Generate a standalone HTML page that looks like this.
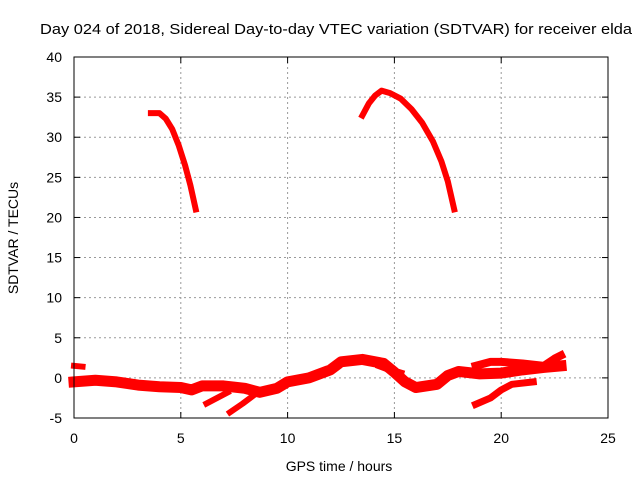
<!DOCTYPE html>
<html><head><meta charset="utf-8"><style>
body{margin:0;background:#fff}
svg{display:block;font-family:"Liberation Sans",sans-serif}
</style></head><body>
<svg id="chart" width="640" height="480">
<text x="40" y="34" font-size="15" textLength="592" lengthAdjust="spacingAndGlyphs">Day 024 of 2018, Sidereal Day-to-day VTEC variation (SDTVAR) for receiver elda</text>
<g id="grid"></g><g id="ticks"></g><g id="series"></g>
<rect x="74" y="57" width="534" height="361" fill="none" stroke="#000" stroke-width="1"/>
<text x="339" y="471" font-size="14" text-anchor="middle">GPS time / hours</text>
<text x="18" y="238" font-size="14" text-anchor="middle" transform="rotate(-90 18 238)">SDTVAR / TECUs</text>
</svg>
<script>
const xTicks=[0,5,10,15,20,25];
const yTicks=[-5,0,5,10,15,20,25,30,35,40];
const arc1=[[3.6,33],[4.0,33],[4.3,32.3],[4.6,31],[4.9,29],[5.2,26.5],[5.45,24],[5.7,21]];
const arc2=[[13.5,32.7],[13.8,34.2],[14.1,35.2],[14.4,35.8],[14.8,35.5],[15.3,34.8],[15.8,33.5],[16.3,31.8],[16.8,29.5],[17.2,27],[17.5,24.5],[17.8,21]];
const bandMain=[[0,-0.5],[1,-0.3],[2,-0.5],[3,-0.9],[4,-1.1],[5,-1.2],[5.5,-1.5],[6,-1.0],[7,-1.0],[8,-1.3],[8.7,-1.8],[9.5,-1.3],[10,-0.5],[11,0],[12,1.0],[12.5,2.0],[13.5,2.3],[14.5,1.8],[15,0.7],[15.5,-0.5],[16,-1.2],[17,-0.8],[17.5,0.3],[18,0.8],[19,0.5],[20,0.6],[21,1.0],[22,1.3],[22.8,1.5]];
const bandStart=[[0,1.5],[0.4,1.4]];
const bandBranch=[[14.3,1.5],[14.8,1.0],[15.3,0.6]];
const bandUpper=[[18.8,1.5],[19.5,2.0],[20,2.0],[21,1.8],[22,1.5],[22.5,2.4],[22.8,2.8]];
const bandLower=[[18.8,-3.3],[19.5,-2.5],[20,-1.5],[20.5,-0.8],[21.5,-0.5]];
const branchA=[[6.2,-3.2],[6.7,-2.5],[7.2,-1.8]];
const branchB=[[7.3,-4.3],[7.9,-3.2],[8.4,-2.2]];
const X=h=>74+h*534/25, Y=v=>418-(v+5)*361/45;
const NS="http://www.w3.org/2000/svg";
const g=document.getElementById('grid'),t=document.getElementById('ticks'),s=document.getElementById('series');
function mk(tag,attrs,parent){const e=document.createElementNS(NS,tag);for(const k in attrs)e.setAttribute(k,attrs[k]);parent.appendChild(e);return e;}
xTicks.forEach(v=>{const x=X(v);
 if(v>0&&v<25){const l=mk('line',{x1:x,x2:x,y1:57,y2:418,stroke:'#999','stroke-dasharray':'2,3'},g);
 
 }
 mk('line',{x1:x,x2:x,y1:418,y2:412,stroke:'#000'},t);mk('line',{x1:x,x2:x,y1:57,y2:63,stroke:'#000'},t);
 const tx=mk('text',{x:x,y:443,'font-size':14,'text-anchor':'middle'},t);tx.textContent=v;
 
 });
yTicks.forEach(v=>{const y=Y(v);
 if(v>-5&&v<40){const l=mk('line',{x1:74,x2:608,y1:y,y2:y,stroke:'#999','stroke-dasharray':'2,3'},g);
 
 }
 mk('line',{x1:74,x2:80,y1:y,y2:y,stroke:'#000'},t);mk('line',{x1:602,x2:608,y1:y,y2:y,stroke:'#000'},t);
 const tx=mk('text',{x:62,y:y+5,'font-size':14,'text-anchor':'end'},t);tx.textContent=v;
 
 });
[[arc1,6,'arc-1'],[arc2,6,'arc-2'],[bandMain,11,'band-main'],[bandStart,6,'band-start'],[bandBranch,7,'band-branch'],[bandUpper,8,'band-upper'],[bandLower,7,'band-lower'],[branchA,6,'branch-a'],[branchB,6,'branch-b']].forEach(([d,w,n])=>{
 const p=mk('polyline',{points:d.map(q=>X(q[0])+','+Y(q[1])).join(' '),fill:'none',stroke:'#f00','stroke-width':w,'stroke-linejoin':'round','stroke-linecap':'square'},s);
 
 });
</script>
</body></html>
